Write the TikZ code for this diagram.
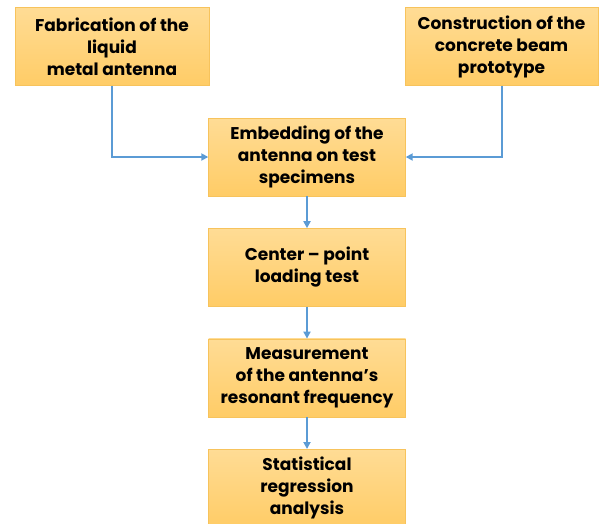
\documentclass[tikz,border=0pt]{standalone}
\usepackage{fontspec}
\setmainfont{Poppins}
\usetikzlibrary{positioning,arrows.meta}
\definecolor{boxtop}{HTML}{FFDC95}
\definecolor{boxbot}{HTML}{FFCC66}
\definecolor{boxline}{HTML}{F7C35C}
\definecolor{flow}{HTML}{5B9BD5}

\begin{document}
\begin{tikzpicture}[x=1pt, y=-1pt, node distance={32pt},
    stage/.style = {draw=boxline, top color=boxtop, bottom color=boxbot, minimum width=197pt, minimum height=78pt, align=center, inner sep=2pt, font=\fontsize{17}{22}\selectfont\bfseries},
    flowarrow/.style = {draw=flow, line width=2pt, -{Triangle[length=7pt, width=7pt]}}]
    \useasboundingbox (0,0) rectangle (600,523);
    \node[stage, minimum width=194pt] (fab) at (112,46.5) {Fabrication of the\\liquid\\metal antenna};
    \node[stage, minimum width=193pt] (beam) at (501.5,46.5) {Construction of the\\concrete beam\\prototype};
    \node[stage] (embed) at (307,157) {Embedding of the\\antenna on test\\specimens};
    \node[stage] (load) [below=of embed] {Center -- point\\loading test};
    \node[stage] (freq) [below=of load] {Measurement\\of the antenna's\\resonant frequency};
    \node[stage] (stat) [below=of freq] {Statistical\\regression\\analysis};
    \draw[flowarrow] (fab.south) |- (embed.west);
    \draw[flowarrow] (beam.south) |- (embed.east);
    \draw[flowarrow] (embed) -- (load);
    \draw[flowarrow] (load) -- (freq);
    \draw[flowarrow] (freq) -- (stat);
  \end{tikzpicture}
\end{document}
